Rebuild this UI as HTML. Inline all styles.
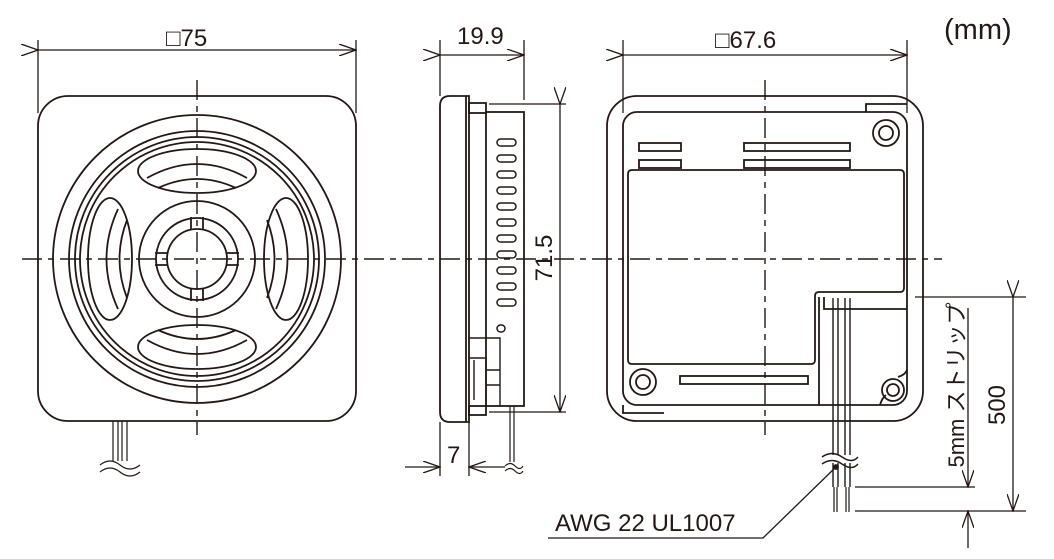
<!DOCTYPE html>
<html><head><meta charset="utf-8"><style>
html,body{margin:0;padding:0;background:#fff;}
svg{display:block;}
text{font-family:"Liberation Sans","Noto Sans CJK JP",sans-serif;fill:#231815;}
</style></head><body>
<svg width="1054" height="559" viewBox="0 0 1054 559" xmlns="http://www.w3.org/2000/svg">
<defs>
<marker id="a" markerWidth="18" markerHeight="12" refX="17" refY="6" orient="auto" markerUnits="userSpaceOnUse">
<path d="M0,0 L17,6 L0,12" fill="none" stroke="#231815" stroke-width="1.3"/></marker>
</defs>
<g fill="none" stroke="#231815" stroke-width="1.8">
<g stroke-width="1.4" stroke-dasharray="20,6,6,6">
<line x1="22" y1="259" x2="942" y2="259"/>
<line x1="197" y1="80" x2="197" y2="435"/>
<line x1="765" y1="80" x2="765" y2="435"/>
</g>
<rect x="38" y="96" width="318" height="325" rx="30"/>
<circle cx="197" cy="259" r="144"/>
<circle cx="197" cy="259" r="128"/>
<circle cx="197" cy="259" r="122"/>
<circle cx="197" cy="259" r="117"/>
<circle cx="197" cy="259" r="58"/>
<circle cx="197" cy="259" r="41"/>
<circle cx="197" cy="259" r="30"/>
<ellipse cx="197" cy="171" rx="59" ry="22"/>
<path d="M147,178 Q197,150 247,178"/><path d="M158,188 Q197,170 236,188"/>
<ellipse cx="197" cy="347" rx="59" ry="22"/>
<path d="M147,340 Q197,368 247,340"/><path d="M158,330 Q197,348 236,330"/>
<ellipse cx="110" cy="259" rx="22" ry="61"/>
<path d="M118,209 Q95,259 118,309"/><path d="M127,220 Q112,259 127,298"/>
<ellipse cx="286" cy="259" rx="22" ry="61"/>
<path d="M276,209 Q299,259 276,309"/><path d="M267,220 Q282,259 267,298"/>
<path d="M191,217v12M203,217v12M191,289v12M203,289v12M155,253h12M155,265h12M227,253h12M227,265h12"/>
<path d="M113,421v40M118,421v40M122,421v40M127,421v40" stroke-width="1.2"/>
<path d="M100,465q10,-8 20,0t20,0M100,472q10,-8 20,0t20,0" stroke-width="1.2"/>
<g stroke-width="1.3">
<line x1="38" y1="40" x2="38" y2="113"/><line x1="356" y1="40" x2="356" y2="113"/>
<line x1="38" y1="50" x2="356" y2="50" marker-start="url(#a)" marker-end="url(#a)"/>
</g>
<path d="M450,96 H469 V422 H450 Q440,422 440,412 V106 Q440,96 450,96Z"/>
<line x1="466" y1="96" x2="466" y2="422"/>
<rect x="469" y="103" width="17" height="10"/>
<rect x="469" y="406" width="17" height="9" />
<rect x="486" y="112" width="38" height="294"/>
<path d="M469,338 H500 V406 M469,358 H486 M486,358 V406 M474,360 V400 M486,370 H500 M486,385 H500" stroke-width="1.4"/>
<g stroke-width="1.5">
<rect x="497" y="139" width="19" height="7" rx="3.5"/>
<rect x="497" y="155" width="19" height="7" rx="3.5"/>
<rect x="497" y="171" width="19" height="7" rx="3.5"/>
<rect x="497" y="187" width="19" height="7" rx="3.5"/>
<rect x="497" y="203" width="19" height="7" rx="3.5"/>
<rect x="497" y="219" width="19" height="7" rx="3.5"/>
<rect x="497" y="235" width="19" height="7" rx="3.5"/>
<rect x="497" y="251" width="19" height="7" rx="3.5"/>
<rect x="497" y="267" width="19" height="7" rx="3.5"/>
<rect x="497" y="283" width="19" height="7" rx="3.5"/>
<rect x="497" y="299" width="19" height="7" rx="3.5"/>
<rect x="497" y="325" width="8" height="7" rx="3.5"/>
</g>
<path d="M510,406v56M514,406v56" stroke-width="1.2"/>
<path d="M505,466q5,-5 10,0t8,0M505,471q5,-5 10,0t8,0" stroke-width="1.2"/>
<g stroke-width="1.3">
<line x1="440" y1="40" x2="440" y2="96"/><line x1="524" y1="40" x2="524" y2="100"/>
<line x1="440" y1="55" x2="524" y2="55" marker-start="url(#a)" marker-end="url(#a)"/>
<line x1="489" y1="104" x2="566" y2="104"/><line x1="489" y1="412" x2="566" y2="412"/>
<line x1="560" y1="104" x2="560" y2="412" marker-start="url(#a)" marker-end="url(#a)"/>
<line x1="440" y1="422" x2="440" y2="476"/><line x1="469" y1="422" x2="469" y2="476"/>
<line x1="405" y1="467" x2="440" y2="467" marker-end="url(#a)"/>
<line x1="505" y1="467" x2="469" y2="467" marker-end="url(#a)"/>
</g>
<rect x="607" y="96" width="316" height="325" rx="30"/>
<rect x="623" y="112" width="284" height="293" rx="14"/>
<path d="M632,170 H900 Q904,170 904,174 V288 Q904,292 900,292 H819 Q815,292 815,296 V360 Q815,364 811,364 H632 Q628,364 628,360 V174 Q628,170 632,170Z"/>
<path d="M866,112 V104 H907 M623,405 V413 H664 M819,297 V405 M824,297 V309 H907 M907,370 Q905,375 898,377 M880,405 Q882,398 886,395"/>
<rect x="639" y="143" width="42" height="8"/><rect x="639" y="160" width="42" height="8"/>
<rect x="744" y="143" width="106" height="8"/><rect x="744" y="160" width="106" height="8"/>
<rect x="680" y="376" width="128" height="8"/>
<circle cx="886" cy="133" r="13"/><circle cx="886" cy="133" r="7"/>
<circle cx="643" cy="382" r="13"/><circle cx="643" cy="382" r="7"/>
<circle cx="893" cy="390" r="11"/><circle cx="893" cy="390" r="6"/>
<path d="M833,298V487M838,298V487M845,298V487M850,298V487" stroke-width="1.4"/>
<path d="M834,487V512M837,487V512M846,487V512M849,487V512" stroke-width="1.2"/>
<rect x="824" y="455" width="36" height="8" fill="#fff" stroke="none"/>
<path d="M822,457q10,-7 20,0t16,0M822,464q10,-7 20,0t16,0" stroke-width="1.4"/>
<g stroke-width="1.3">
<line x1="623" y1="40" x2="623" y2="113"/><line x1="907" y1="40" x2="907" y2="113"/>
<line x1="623" y1="55" x2="907" y2="55" marker-start="url(#a)" marker-end="url(#a)"/>
<line x1="915" y1="297" x2="1026" y2="297"/><line x1="855" y1="511" x2="1026" y2="511"/>
<line x1="855" y1="487" x2="975" y2="487"/>
<line x1="1013" y1="297" x2="1013" y2="511" marker-start="url(#a)" marker-end="url(#a)"/>
<line x1="968" y1="308" x2="968" y2="487" marker-end="url(#a)"/>
<line x1="968" y1="548" x2="968" y2="511" marker-end="url(#a)"/>
<polyline points="548,538 763,538 836,467"/>
</g>
<circle cx="836" cy="467" r="2" fill="#231815"/>
</g>
<g font-size="24">
<text x="166" y="46">□75</text>
<text x="457" y="44">19.9</text>
<text x="715" y="48">□67.6</text>
<text x="447" y="463">7</text>
<text x="944" y="39" font-size="29">(mm)</text>
<text x="555" y="531">AWG 22  UL1007</text>
<text transform="translate(552,258) rotate(-90)" text-anchor="middle">71.5</text>
<text transform="translate(1005,405) rotate(-90)" text-anchor="middle">500</text>
<text transform="translate(964,385) rotate(-90)" text-anchor="middle" font-size="22">5mm ストリップ</text>
</g>
</svg>
</body></html>
